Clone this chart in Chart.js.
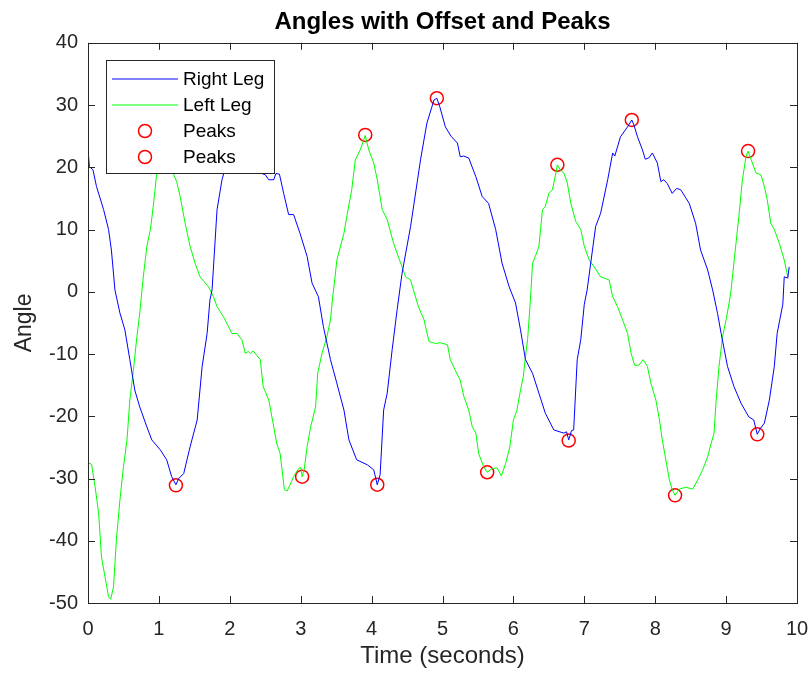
<!DOCTYPE html>
<html>
<head>
<meta charset="utf-8">
<script src="https://cdn.jsdelivr.net/npm/chart.js@4.4.1/dist/chart.umd.min.js"></script>
<style>
  body { margin: 0; background: #fff; }
  #wrap { width: 811px; height: 673px; }
</style>
</head>
<body>
<div id="wrap"><canvas id="myChart" width="811" height="673"></canvas></div>
<script>
// values
var rightTime = [0.00,0.02,0.07,0.12,0.22,0.29,0.33,0.38,0.45,0.52,0.59,0.66,0.73,0.83,0.90,1.02,1.11,1.18,1.24,1.28,1.35,1.44,1.54,1.61,1.68,1.72,1.75,1.82,1.89,1.95,2.05,2.15,2.25,2.35,2.45,2.50,2.55,2.62,2.65,2.70,2.76,2.83,2.90,2.99,3.09,3.16,3.25,3.32,3.42,3.51,3.61,3.68,3.79,3.94,4.03,4.08,4.12,4.17,4.22,4.29,4.36,4.43,4.55,4.69,4.78,4.88,4.92,4.96,5.04,5.12,5.21,5.25,5.30,5.37,5.47,5.56,5.65,5.75,5.84,5.94,6.03,6.10,6.17,6.27,6.36,6.45,6.57,6.71,6.75,6.78,6.82,6.85,6.90,6.95,7.00,7.04,7.16,7.23,7.33,7.40,7.43,7.51,7.61,7.67,7.70,7.75,7.82,7.86,7.91,7.96,8.03,8.08,8.12,8.17,8.24,8.30,8.36,8.48,8.57,8.64,8.74,8.81,8.88,8.93,9.02,9.11,9.21,9.32,9.39,9.44,9.48,9.54,9.61,9.68,9.72,9.80,9.82,9.87,9.89];
var rightAngle = [22.8,20.1,19.6,16.9,13.2,10.0,6.7,0.3,-3.4,-6.1,-10.9,-15.8,-18.5,-21.7,-23.8,-25.4,-27.0,-29.7,-31.0,-30.0,-29.2,-24.9,-20.6,-12.0,-6.7,-1.3,0.3,13.2,18.0,20.5,22.0,22.5,22.0,20.5,19.0,18.8,18.0,18.0,19.0,18.9,15.8,12.4,12.4,9.4,5.7,1.4,-0.8,-5.6,-10.9,-14.7,-19.0,-23.8,-27.0,-27.8,-28.6,-31.0,-29.4,-19.0,-16.3,-9.3,-2.9,3.0,10.5,21.2,27.1,30.8,31.1,29.8,26.5,25.0,23.9,21.7,21.8,21.5,18.5,15.3,14.2,10.0,4.6,0.8,-1.8,-6.1,-10.9,-13.1,-16.3,-19.5,-22.2,-22.7,-22.5,-23.8,-22.3,-22.2,-10.9,-7.7,-2.0,0.3,10.5,12.6,18.0,22.3,21.8,24.9,26.5,27.6,26.8,24.9,22.8,21.3,21.5,22.3,20.7,17.7,18.0,17.4,15.8,16.6,16.4,14.2,11.0,6.7,3.5,0.3,-3.5,-6.7,-12.0,-15.2,-17.9,-20.1,-20.6,-22.9,-22.0,-21.1,-17.4,-12.0,-6.7,-2.0,2.4,2.2,4.0];

var leftTime = [0.00,0.05,0.10,0.15,0.19,0.24,0.29,0.32,0.36,0.40,0.45,0.50,0.55,0.59,0.64,0.69,0.73,0.78,0.83,0.88,0.92,0.97,1.03,1.10,1.20,1.25,1.30,1.37,1.44,1.51,1.58,1.70,1.77,1.82,1.91,2.03,2.10,2.17,2.22,2.26,2.29,2.33,2.38,2.43,2.47,2.55,2.61,2.66,2.71,2.77,2.81,2.90,2.97,3.00,3.02,3.05,3.09,3.14,3.21,3.24,3.30,3.37,3.42,3.45,3.48,3.51,3.61,3.65,3.72,3.77,3.84,3.91,3.96,4.03,4.08,4.15,4.22,4.31,4.41,4.48,4.55,4.59,4.66,4.74,4.76,4.81,4.90,4.97,5.07,5.11,5.18,5.25,5.30,5.37,5.42,5.47,5.51,5.58,5.63,5.70,5.77,5.83,5.89,5.95,6.00,6.05,6.10,6.14,6.17,6.20,6.24,6.27,6.31,6.36,6.41,6.45,6.50,6.55,6.60,6.62,6.66,6.71,6.76,6.81,6.88,6.95,7.00,7.07,7.14,7.23,7.35,7.40,7.47,7.54,7.61,7.66,7.71,7.77,7.83,7.89,7.94,8.01,8.06,8.10,8.15,8.20,8.24,8.28,8.34,8.43,8.53,8.60,8.67,8.74,8.79,8.83,8.86,8.90,8.95,9.00,9.05,9.07,9.12,9.18,9.23,9.28,9.31,9.37,9.42,9.49,9.54,9.58,9.63,9.68,9.75,9.82,9.87];
var leftAngle = [-27.5,-27.7,-31.3,-35.6,-42.6,-45.8,-49.0,-49.4,-47.4,-39.9,-33.5,-28.1,-23.8,-17.4,-12.6,-7.2,-3.4,2.4,7.3,10.0,13.7,19.1,21.3,21.8,19.1,17.7,15.3,11.0,7.3,4.6,2.4,0.8,-0.8,-2.4,-4.0,-6.7,-6.7,-7.7,-9.9,-9.6,-9.9,-9.5,-10.2,-10.9,-15.2,-17.4,-21.1,-24.3,-26.0,-31.8,-32.0,-29.7,-28.4,-28.2,-29.7,-28.5,-24.9,-21.7,-18.5,-13.1,-9.9,-7.2,-4.5,-1.0,1.9,5.1,9.4,12.1,16.4,21.2,22.8,25.1,22.8,20.7,18.0,13.2,11.6,7.8,4.6,2.4,1.9,0.3,-2.4,-4.5,-5.6,-8.0,-8.3,-8.2,-8.5,-10.9,-12.6,-14.2,-16.8,-19.0,-21.7,-22.7,-26.0,-28.1,-29.0,-28.4,-28.3,-29.6,-27.6,-24.9,-20.6,-19.0,-15.8,-13.6,-10.4,-7.7,-1.3,4.6,5.7,7.3,13.2,13.7,15.8,16.4,19.1,20.4,19.6,19.1,17.5,14.2,11.3,10.0,7.3,5.1,4.0,2.4,1.9,-0.8,-2.4,-4.5,-6.7,-9.9,-11.8,-11.8,-10.9,-12.0,-14.7,-17.4,-20.6,-23.8,-27.0,-30.2,-31.8,-32.7,-31.7,-31.4,-31.7,-30.2,-28.6,-26.5,-24.3,-22.7,-17.4,-12.0,-7.2,-4.5,-1.3,0.3,5.7,12.1,18.0,21.7,22.6,20.7,19.1,18.8,16.9,14.8,11.0,10.0,7.8,5.1,2.4];

var rightPeakTime = [1.24,4.08,4.92,6.78,7.67,9.44];
var rightPeakAngle = [-31.1,-31.0,31.1,-23.9,27.6,-22.9];
var leftPeakTime = [3.02,3.91,5.63,6.62,8.28,9.31];
var leftPeakAngle = [-29.7,25.2,-29.0,20.4,-32.7,22.6];

var xTicks = [0,1,2,3,4,5,6,7,8,9,10];
var yTicks = [-50,-40,-30,-20,-10,0,10,20,30,40];

var fontFam = "'Liberation Sans', Arial, Helvetica, sans-serif";
var axisColor = '#262626';

function pairs(xs, ys) {
  var out = [];
  for (var i = 0; i < xs.length; i++) {
    out.push({x: xs[i], y: ys[i]});
  }
  return out;
}

// box round the axes with inward ticks on all four sides
var framePlugin = {
  id: 'frame',
  afterDatasetsDraw(chart) {
    var ctx = chart.ctx;
    var a = chart.chartArea;
    var xs = chart.scales.x, ys = chart.scales.y;
    var tl = 7;
    ctx.save();
    ctx.strokeStyle = axisColor;
    ctx.lineWidth = 1;
    ctx.beginPath();
    xTicks.forEach(function(t) {
      var px = Math.round(xs.getPixelForValue(t)) + 0.5;
      ctx.moveTo(px, a.bottom); ctx.lineTo(px, a.bottom - tl);
      ctx.moveTo(px, a.top); ctx.lineTo(px, a.top + tl);
    });
    yTicks.forEach(function(t) {
      var py = Math.round(ys.getPixelForValue(t)) + 0.5;
      ctx.moveTo(a.left, py); ctx.lineTo(a.left + tl, py);
      ctx.moveTo(a.right, py); ctx.lineTo(a.right - tl, py);
    });
    ctx.stroke();
    ctx.strokeRect(Math.round(a.left) + 0.5, Math.round(a.top) + 0.5,
      Math.round(a.right - a.left), Math.round(a.bottom - a.top));
    ctx.restore();
  }
};

// legend box inside the axes, MATLAB style
var legendPlugin = {
  id: 'boxLegend',
  afterDatasetsDraw(chart) {
    var ctx = chart.ctx;
    var a = chart.chartArea;
    var bx = Math.round(a.left) + 18, by = Math.round(a.top) + 17, bw = 168, bh = 113;
    ctx.save();
    ctx.fillStyle = '#fff';
    ctx.fillRect(bx, by, bw, bh);
    ctx.strokeStyle = axisColor;
    ctx.lineWidth = 1;
    ctx.strokeRect(bx + 0.5, by + 0.5, bw, bh);
    ctx.font = '19px ' + fontFam;
    ctx.textBaseline = 'middle';
    ctx.fillStyle = '#000';
    chart.data.datasets.forEach(function(ds, i) {
      var ry = by + 19 + i * 26;
      if (ds.showLine === false) {
        ctx.beginPath();
        ctx.strokeStyle = ds.borderColor;
        ctx.lineWidth = ds.borderWidth;
        ctx.arc(bx + 39, ry, ds.pointRadius, 0, Math.PI * 2);
        ctx.stroke();
      } else {
        ctx.beginPath();
        ctx.strokeStyle = ds.borderColor;
        ctx.lineWidth = 1.2;
        ctx.moveTo(bx + 6, ry);
        ctx.lineTo(bx + 72, ry);
        ctx.stroke();
      }
      ctx.fillText(ds.label, bx + 77, ry + 1);
    });
    ctx.restore();
  }
};

const data = {
  datasets: [{
    label: 'Right Leg',
    data: pairs(rightTime, rightAngle),
    showLine: true,
    borderColor: '#0000ff',
    borderWidth: 1,
    pointRadius: 0,
    tension: 0
  }, {
    label: 'Left Leg',
    data: pairs(leftTime, leftAngle),
    showLine: true,
    borderColor: '#00ff00',
    borderWidth: 1,
    pointRadius: 0,
    tension: 0
  }, {
    label: 'Peaks',
    data: pairs(rightPeakTime, rightPeakAngle),
    showLine: false,
    borderColor: '#ff0000',
    backgroundColor: 'rgba(0,0,0,0)',
    borderWidth: 1.5,
    pointRadius: 6.5,
    pointHoverRadius: 6.5
  }, {
    label: 'Peaks',
    data: pairs(leftPeakTime, leftPeakAngle),
    showLine: false,
    borderColor: '#ff0000',
    backgroundColor: 'rgba(0,0,0,0)',
    borderWidth: 1.5,
    pointRadius: 6.5,
    pointHoverRadius: 6.5
  }]
};

const config = {
  type: 'scatter',
  data: data,
  options: {
    responsive: false,
    animation: false,
    layout: { padding: { right: 14, left: 0, bottom: 0, top: 0 } },
    plugins: {
      legend: { display: false },
      tooltip: { enabled: false },
      title: {
        display: true,
        fullSize: false,
        text: 'Angles with Offset and Peaks',
        color: '#000',
        font: { family: fontFam, size: 24, weight: 'bold' },
        padding: { top: 8, bottom: 6 }
      }
    },
    scales: {
      x: {
        type: 'linear',
        min: 0,
        max: 10,
        afterFit: function(s) { s.height = 70; s.paddingLeft = 0; s.paddingRight = 0; },
        afterBuildTicks: function(s) { s.ticks = xTicks.map(function(v) { return {value: v}; }); },
        grid: { display: false, drawTicks: false },
        border: { display: false },
        ticks: { color: axisColor, font: { family: fontFam, size: 20 }, padding: 14, maxRotation: 0 },
        title: {
          display: true,
          text: 'Time (seconds)',
          color: axisColor,
          font: { family: fontFam, size: 24 },
          padding: { top: 0, bottom: 2 }
        }
      },
      y: {
        type: 'linear',
        min: -50,
        max: 40,
        afterFit: function(s) { s.width = 88; s.paddingTop = 0; s.paddingBottom = 0; },
        afterBuildTicks: function(s) { s.ticks = yTicks.map(function(v) { return {value: v}; }); },
        grid: { display: false, drawTicks: false },
        border: { display: false },
        ticks: { color: axisColor, font: { family: fontFam, size: 20 }, padding: 10 },
        title: {
          display: true,
          text: 'Angle',
          color: axisColor,
          font: { family: fontFam, size: 23 },
          padding: { top: 11, bottom: 0 }
        }
      }
    }
  },
  plugins: [framePlugin, legendPlugin]
};

const myChart = new Chart(document.getElementById('myChart'), config);
</script>
</body>
</html>
